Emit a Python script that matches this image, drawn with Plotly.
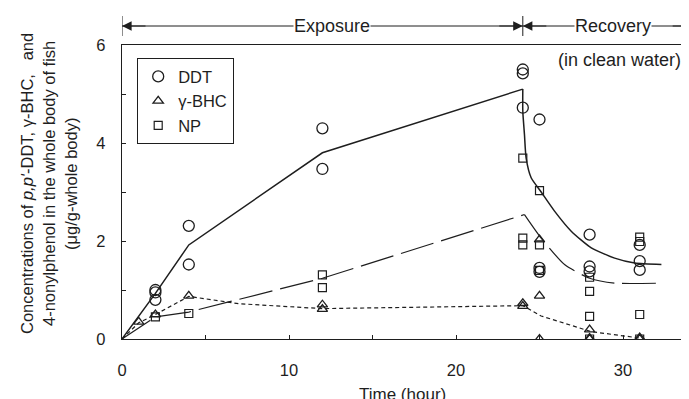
import plotly.graph_objects as go

# ---------------- data ----------------
ddt_t = [2, 2, 2, 4, 4, 12, 12, 24, 24, 24, 25, 25, 25, 28, 28, 28, 31, 31, 31]
ddt_y = [1.0, 0.95, 0.8, 2.31, 1.52, 4.3, 3.47, 5.5, 5.42, 4.72, 4.48, 1.45, 1.37,
         2.13, 1.48, 1.38, 1.92, 1.59, 1.41]

bhc_t = [1, 2, 4, 12, 12, 24, 24, 25, 25, 25, 28, 28, 28, 31, 31]
bhc_y = [0.35, 0.5, 0.88, 0.7, 0.61, 0.73, 0.67, 2.03, 0.88, 0.0, 0.19, 0.02, 0.0, 0.03, 0.0]

np_t = [2, 4, 12, 12, 24, 24, 24, 25, 25, 25, 28, 28, 28, 28, 31, 31, 31, 31]
np_y = [0.45, 0.52, 1.31, 1.05, 3.69, 2.06, 1.92, 3.03, 1.92, 1.4, 1.26, 0.97, 0.46, 0.0,
        2.08, 1.99, 0.5, 0.0]

# fitted lines (exposure part: straight segments; recovery part: smooth curve)
ddt_fit_exp_t = [0, 2, 4, 12, 24]
ddt_fit_exp_y = [0, 0.93, 1.92, 3.8, 5.1]
ddt_fit_rec_t = [24, 24, 24.1, 24.2, 24.5, 25.1, 25.9, 26.9, 28.1, 29.5, 30.7, 32.3]
ddt_fit_rec_y = [5.1, 4.65, 4.17, 3.69, 3.29, 3.0, 2.61, 2.2, 1.86, 1.65, 1.55, 1.52]

np_fit_exp_t = [0, 2, 4, 12, 24.1]
np_fit_exp_y = [0, 0.45, 0.55, 1.24, 2.54]
np_fit_rec_t = [24.1, 25.1, 26.5, 28, 29.5, 32.3]
np_fit_rec_y = [2.54, 2.06, 1.52, 1.24, 1.14, 1.14]

bhc_fit_t = [0, 1, 2, 4, 7, 12, 24, 25.1, 28.1, 31]
bhc_fit_y = [0, 0.33, 0.5, 0.87, 0.72, 0.62, 0.68, 0.47, 0.15, 0.02]

x_tickvals = [0, 5, 10, 15, 20, 25, 30]
x_ticktext = ["0", "", "10", "", "20", "", "30"]
y_tickvals = [0, 1, 2, 3, 4, 5, 6]
y_ticktext = ["0", "", "2", "", "4", "", "6"]

series_names = ["DDT", "γ-BHC", "NP"]
title_lines = ["Concentrations of <i>p,p'</i>-DDT, γ-BHC,\u00a0\u00a0\u00a0and",
               "4-nonylphenol in the whole body of fish",
               "(μg/g-whole body)"]

# ---------------- figure ----------------
INK = "#1e1e1e"
FONT = "Arial, Liberation Sans, Helvetica, sans-serif"

L, R_EDGE, TOP, BOT = 114, 689, 37, 331
PW, PH = R_EDGE - L, BOT - TOP


def px_x(p):
    return (p - L) / PW


def px_y(p):
    return (BOT - p) / PH


fig = go.Figure()

fig.add_trace(go.Scatter(x=ddt_fit_exp_t, y=ddt_fit_exp_y, mode="lines",
                         line=dict(color=INK, width=1.5), showlegend=False, hoverinfo="skip"))
fig.add_trace(go.Scatter(x=ddt_fit_rec_t, y=ddt_fit_rec_y, mode="lines",
                         line=dict(color=INK, width=1.5, shape="spline", smoothing=0.6),
                         showlegend=False, hoverinfo="skip"))
fig.add_trace(go.Scatter(x=np_fit_exp_t, y=np_fit_exp_y, mode="lines",
                         line=dict(color=INK, width=1.2, dash="34px,8px"),
                         showlegend=False, hoverinfo="skip"))
fig.add_trace(go.Scatter(x=np_fit_rec_t, y=np_fit_rec_y, mode="lines",
                         line=dict(color=INK, width=1.2, dash="34px,8px", shape="spline", smoothing=0.6),
                         showlegend=False, hoverinfo="skip"))
fig.add_trace(go.Scatter(x=bhc_fit_t, y=bhc_fit_y, mode="lines",
                         line=dict(color=INK, width=1.2, dash="4px,3px"),
                         showlegend=False, hoverinfo="skip"))

fig.add_trace(go.Scatter(x=ddt_t, y=ddt_y, mode="markers", name=series_names[0],
                         marker=dict(symbol="circle-open", size=11, color=INK, line=dict(width=1.3))))
fig.add_trace(go.Scatter(x=bhc_t, y=bhc_y, mode="markers", name=series_names[1],
                         marker=dict(symbol="triangle-up-open", size=9, color=INK, line=dict(width=1.3))))
fig.add_trace(go.Scatter(x=np_t, y=np_y, mode="markers", name=series_names[2],
                         marker=dict(symbol="square-open", size=8, color=INK, line=dict(width=1.2))))

# ---------------- top arrows ----------------
Y_ARROW = px_y(18)
X_END = (R_EDGE - L) / 16.7 - 0.05

shapes = []
for x0, x1 in [(0, 24), (24, X_END)]:
    shapes.append(dict(type="line", xref="x", yref="paper", x0=x0, x1=x1, y0=Y_ARROW, y1=Y_ARROW,
                       line=dict(color=INK, width=1)))
for xb in [0, 24]:
    shapes.append(dict(type="line", xref="x", yref="paper", x0=xb, x1=xb, y0=px_y(28), y1=px_y(8),
                       line=dict(color=INK, width=1)))

annotations = []
for head, off in [(0, 25), (24, -25), (24, 25), (X_END, -25)]:
    annotations.append(dict(x=head, y=Y_ARROW, xref="x", yref="paper", ax=off, ay=0,
                            axref="pixel", ayref="pixel", text="", showarrow=True,
                            arrowhead=2, arrowsize=1.6, arrowwidth=1.2, arrowcolor=INK, standoff=0))
TOPFONT = dict(size=18, color=INK, family=FONT)
annotations.append(dict(x=12.6, y=Y_ARROW, xref="x", yref="paper", text="Exposure", showarrow=False,
                        xanchor="center", yanchor="middle", bgcolor="white", font=TOPFONT, borderpad=0))
annotations.append(dict(x=29.4, y=Y_ARROW, xref="x", yref="paper", text="Recovery", showarrow=False,
                        xanchor="center", yanchor="middle", bgcolor="white", font=TOPFONT, borderpad=0))
annotations.append(dict(x=29.8, y=px_y(52), xref="x", yref="paper", text="(in clean water)",
                        xanchor="center", yanchor="middle", showarrow=False, font=TOPFONT))
# y-axis title, one annotation per line
for xc, line in zip([19, 41, 63], title_lines):
    annotations.append(dict(x=px_x(xc), y=px_y(176), xref="paper", yref="paper", text=line,
                            textangle=-90, showarrow=False, xanchor="center", yanchor="middle",
                            font=dict(size=16.5, color=INK, family=FONT)))
annotations.append(dict(x=16.8, y=0, xref="x", yref="paper", yshift=-55, text="Time (hour)",
                        showarrow=False, xanchor="center", yanchor="middle",
                        font=dict(size=17, color=INK, family=FONT)))

fig.update_layout(
    width=689, height=399,
    margin=dict(l=L, r=0, t=TOP, b=399 - BOT, pad=0),
    paper_bgcolor="white", plot_bgcolor="white",
    font=dict(family=FONT, size=16, color=INK),
    shapes=shapes, annotations=annotations,
    legend=dict(x=px_x(129), y=px_y(50), xanchor="left", yanchor="top",
                bordercolor=INK, borderwidth=1.2, bgcolor="white",
                font=dict(size=16.5, color=INK, family=FONT), tracegroupgap=0,
                itemwidth=30),
    showlegend=True,
)
fig.update_xaxes(range=[0, (R_EDGE - L) / 16.7], tickvals=x_tickvals, ticktext=x_ticktext,
                 ticks="inside", ticklen=4, tickcolor=INK, tickwidth=1,
                 showline=True, linecolor=INK, linewidth=1.3, mirror=True,
                 showgrid=False, zeroline=False, ticklabelstandoff=16,
                 tickfont=dict(size=16.5, color=INK))
fig.update_yaxes(range=[0, 6], tickvals=y_tickvals, ticktext=y_ticktext,
                 ticks="inside", ticklen=4, tickcolor=INK, tickwidth=1,
                 showline=True, linecolor=INK, linewidth=1.3, mirror=False,
                 showgrid=False, zeroline=False, ticklabelstandoff=12,
                 tickfont=dict(size=16.5, color=INK))

fig.write_html("out.html")
